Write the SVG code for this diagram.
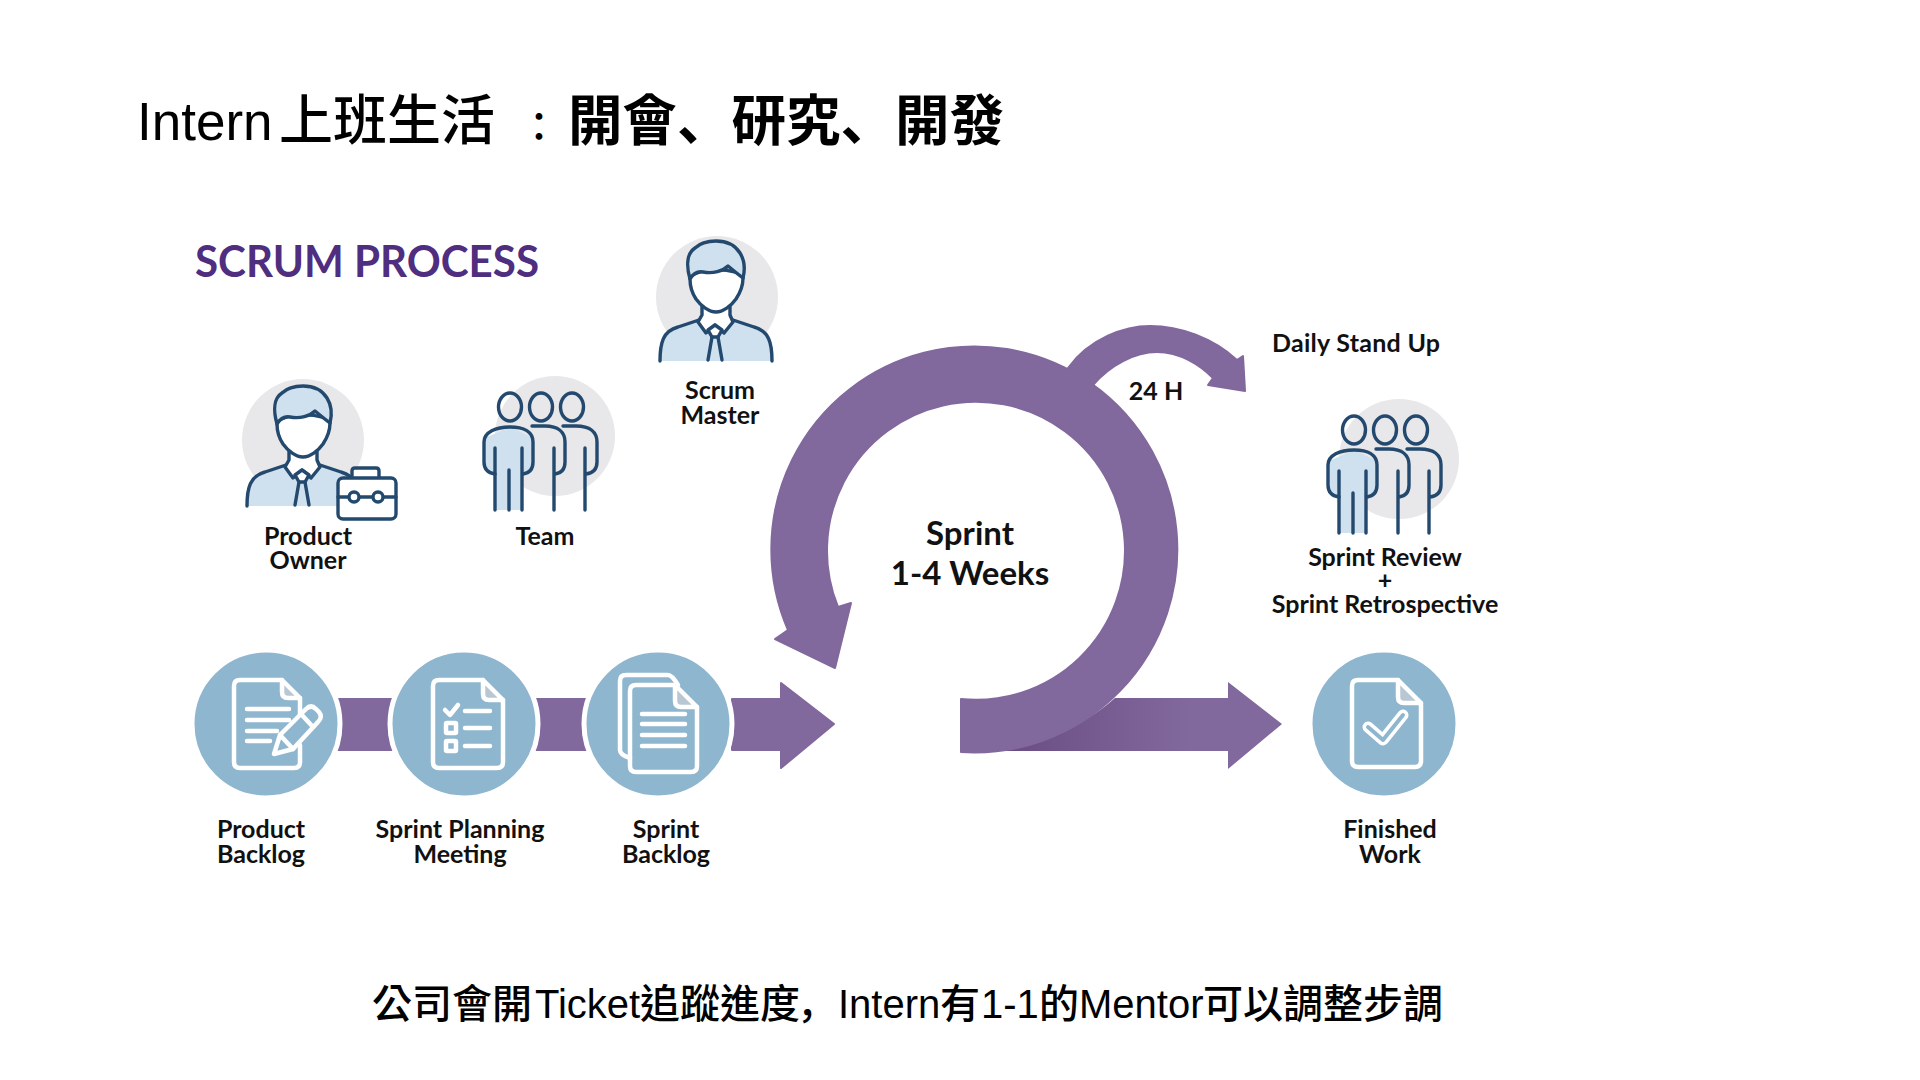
<svg xmlns="http://www.w3.org/2000/svg" xmlns:xlink="http://www.w3.org/1999/xlink" width="1920" height="1080" viewBox="0 0 1920 1080">
<style>
.lb{font-family:"Lato","Liberation Sans",sans-serif;font-weight:700;fill:#111;font-size:25px;text-anchor:middle}
.sl{font-family:"Liberation Sans","Noto Sans CJK TC",sans-serif;fill:#000}
.cj{font-family:"Noto Sans CJK TC",sans-serif;fill:#000;font-weight:500}
.jp{font-family:"Noto Sans CJK JP",sans-serif;fill:#000;font-weight:500}
.ln{fill:none;stroke:#23496e;stroke-width:3.4;stroke-linecap:round;stroke-linejoin:round}
.gr{fill:#e8e8ea}
.lt{fill:#cfe1ee}
.wh{fill:#fff}
.pu{fill:#81689d;stroke:#81689d;stroke-width:2;stroke-linejoin:round}
.cc{fill:#8fb6cf;stroke:#fff;stroke-width:5}
.dc{fill:none;stroke:#fff;stroke-width:4.5;stroke-linecap:round;stroke-linejoin:round}
.fd{fill:#b9c7d2;stroke:#fff;stroke-width:4.5;stroke-linejoin:round}
</style>
<defs>
<linearGradient id="sh" gradientUnits="userSpaceOnUse" x1="1020" y1="0" x2="1190" y2="0">
<stop offset="0" stop-color="#6c5085"/><stop offset="1" stop-color="#81689d"/>
</linearGradient>
<g id="person">
<path class="lt ln" d="M17,136C17,118 20,106 35,102L56,95L73,102L90,95L111,102C126,106 129,118 129,136"/>
<path class="wh ln" d="M59,80V90L55,97L63,108L72,100L81,108L90,97L87,90V80Z"/>
<path class="wh ln" d="M72,100L79,105L75,112H69L65,105Z"/>
<path class="ln" d="M69,112L65,135M75,112L79,135"/>
<path class="wh ln" d="M47,54C47,62 49,68 53,74C58,81 66,87 73,87C80,87 88,81 93,74C97,68 100,62 100,53C98,42 50,42 47,54Z"/>
<path class="lt ln" d="M47,54C43,40 44,28 52,23C58,17 66,16 73,16C84,16 92,20 97,28C102,36 102,45 100,53C96,50 91,46 85,41C80,46 70,49 60,47C54,46 50,49 47,54Z"/>
</g>
<g id="team">
<path class="lt" d="M25,140V104L15,100V68L40,57L63,68V100L52,104V140Z"/>
<ellipse class="ln" cx="40" cy="37" rx="11.5" ry="14"/>
<ellipse class="ln" cx="71" cy="37" rx="11.5" ry="14"/>
<ellipse class="ln" cx="102" cy="37" rx="11.5" ry="14"/>
<path class="ln" d="M25,78V140M52,78V140M39,100V140"/>
<path class="ln" d="M25,104C18,103 14,99 14,92V72C14,62 26,57 40,57C54,57 63,62 63,72V92C63,99 60,103 53,104"/>
<path class="ln" d="M62,56H75C88,56 95,62 95,72V92C95,99 92,103 85,104M84,78V140"/>
<path class="ln" d="M93,56H106C120,56 127,62 127,72V92C127,99 124,103 116,104M115,78V140"/>
</g>
</defs>
<rect width="1920" height="1080" fill="#fff"/>
<g id="title">
<text class="sl" x="137" y="140" font-size="53">Intern</text>
<text class="cj" x="279" y="140" font-size="54">上班生活</text>
<text class="cj" x="519" y="141" font-size="40">：</text>
<text class="jp" x="568" y="140" font-size="54.5" style="font-weight:700">開會、研究、開發</text>
</g>
<g id="heading"><text x="195" y="277" font-family="Lato,'Liberation Sans',sans-serif" font-weight="700" font-size="44" fill="#4f2d7f" textLength="344" lengthAdjust="spacingAndGlyphs">SCRUM PROCESS</text></g>

<g id="connectors">
<path class="pu" d="M335,699H400V750H335ZM535,699H600V750H535Z"/>
<path class="pu" d="M732,699H781V683L834,724L781,768V750H732Z"/>
<path fill="url(#sh)" d="M985,751C1040,745 1085,725 1115,698H1228V682L1282,724L1228,769V751Z"/>
<path class="pu" d="M961,752V699A149,149 0 1 0 838,607L851,603L835,668L775,639L788,630A203,203 0 1 1 961,752Z"/>
<path class="pu" d="M1068,368C1090,338 1125,326 1150,326C1180,326 1213,338 1237,360L1243,356L1245,391L1208,385L1213,378C1200,365 1180,352 1157,352C1135,352 1110,365 1093,385Z"/>
</g>

<g id="product-owner">
<circle class="gr" cx="303" cy="440" r="61"/>
<use href="#person" xlink:href="#person" transform="translate(230,370)"/>
<g transform="translate(230,370)">
<path class="wh ln" d="M122,108V101Q122,98 125,98H146Q149,98 149,101V108"/>
<rect class="wh ln" x="108" y="108" width="58" height="41" rx="5"/>
<path class="ln" d="M108,127H118M130,127H142M154,127H166"/>
<circle class="ln" cx="124" cy="127" r="5"/><circle class="ln" cx="148" cy="127" r="5"/>
</g>
<text class="lb" x="308" y="545">Product</text><text class="lb" x="308" y="569">Owner</text>
</g>
<g id="team-node">
<circle class="gr" cx="555" cy="436" r="60"/>
<use href="#team" xlink:href="#team" transform="translate(470,370)"/>
<text class="lb" x="545" y="545">Team</text>
</g>
<g id="scrum-master">
<circle class="gr" cx="717" cy="297" r="61"/>
<use href="#person" xlink:href="#person" transform="translate(643,225)"/>
<text class="lb" x="720" y="399">Scrum</text><text class="lb" x="720" y="424">Master</text>
</g>
<g id="sprint">
<text class="lb" style="font-size:33px" x="970" y="545">Sprint</text>
<text class="lb" style="font-size:33px" x="970" y="585">1-4 Weeks</text>
</g>
<g id="h24"><text class="lb" x="1156" y="400">24 H</text></g>
<g id="daily"><text class="lb" x="1356" y="352" textLength="168">Daily Stand Up</text></g>
<g id="review">
<circle class="gr" cx="1399" cy="459" r="60"/>
<use href="#team" xlink:href="#team" transform="translate(1314,393)"/>
<text class="lb" x="1385" y="566">Sprint Review</text>
<text class="lb" x="1385" y="589">+</text>
<text class="lb" x="1385" y="613">Sprint Retrospective</text>
</g>

<g id="product-backlog">
<circle class="cc" cx="266" cy="724" r="74"/>
<path class="dc" d="M282,680H240Q234,680 234,686V762Q234,768 240,768H294Q300,768 300,762V745M300,715V698"/>
<path class="fd" d="M282,680L300,698H288Q282,698 282,692Z"/>
<path class="dc" d="M247,709H289M247,720H289M247,731H277M247,741H270"/>
<path d="M274,754L280,735L306,709Q311,704 316,709L319,712Q323,717 318,722L293,749Z" fill="#8fb6cf" stroke="#fff" stroke-width="4.5" stroke-linejoin="round"/>
<path class="dc" d="M301,714L313,727M280,735L293,749"/>
<text class="lb" x="261" y="838">Product</text><text class="lb" x="261" y="863">Backlog</text>
</g>
<g id="sprint-planning">
<circle class="cc" cx="464" cy="724" r="74"/>
<path class="dc" d="M483,680H439Q433,680 433,686V762Q433,768 439,768H497Q503,768 503,762V700"/>
<path class="fd" d="M483,680L503,700H489Q483,700 483,694Z"/>
<path class="dc" d="M445,710L450,715L458,705M465,711H490M465,728H490M465,746H490"/>
<rect class="dc" x="446" y="723" width="10" height="10" rx="1"/>
<rect class="dc" x="446" y="741" width="10" height="10" rx="1"/>
<text class="lb" x="460" y="838">Sprint Planning</text><text class="lb" x="460" y="863">Meeting</text>
</g>
<g id="sprint-backlog">
<circle class="cc" cx="658" cy="724" r="74"/>
<path class="dc" d="M630,758Q620,755 620,750V681Q620,675 626,675H668Q672,675 678,685"/>
<path class="dc" d="M675,685H636Q630,685 630,691V766Q630,772 636,772H691Q697,772 697,766V707"/>
<path class="fd" d="M675,685L697,707H681Q675,707 675,701Z"/>
<path class="dc" d="M642,714H685M642,724H685M642,735H685M642,746H685"/>
<text class="lb" x="666" y="838">Sprint</text><text class="lb" x="666" y="863">Backlog</text>
</g>
<g id="finished-work">
<circle class="cc" cx="1384" cy="724" r="74"/>
<path class="dc" d="M1398,680H1358Q1352,680 1352,686V761Q1352,767 1358,767H1415Q1421,767 1421,761V703"/>
<path class="fd" d="M1398,680L1421,703H1404Q1398,703 1398,697Z"/>
<path d="M1368,727L1383,740L1403,715" fill="none" stroke="#fff" stroke-width="11" stroke-linecap="round" stroke-linejoin="round"/>
<path d="M1368,727L1383,740L1403,715" fill="none" stroke="#8fb6cf" stroke-width="4" stroke-linecap="round" stroke-linejoin="round"/>
<text class="lb" x="1390" y="838">Finished</text><text class="lb" x="1390" y="863">Work</text>
</g>

<g id="caption">
<text class="cj" x="372" y="1018" font-size="40">公司會開</text>
<text class="sl" x="535" y="1018" font-size="40">Ticket</text>
<text class="cj" x="640" y="1018" font-size="40">追蹤進度</text>
<text class="jp" x="797" y="1018" font-size="40">，</text>
<text class="sl" x="838" y="1018" font-size="40">Intern</text>
<text class="cj" x="940" y="1018" font-size="40">有</text>
<text class="sl" x="981" y="1018" font-size="40">1-1</text>
<text class="cj" x="1039" y="1018" font-size="40">的</text>
<text class="sl" x="1079" y="1018" font-size="40">Mentor</text>
<text class="cj" x="1203" y="1018" font-size="40">可以調整步調</text>
</g>
</svg>
